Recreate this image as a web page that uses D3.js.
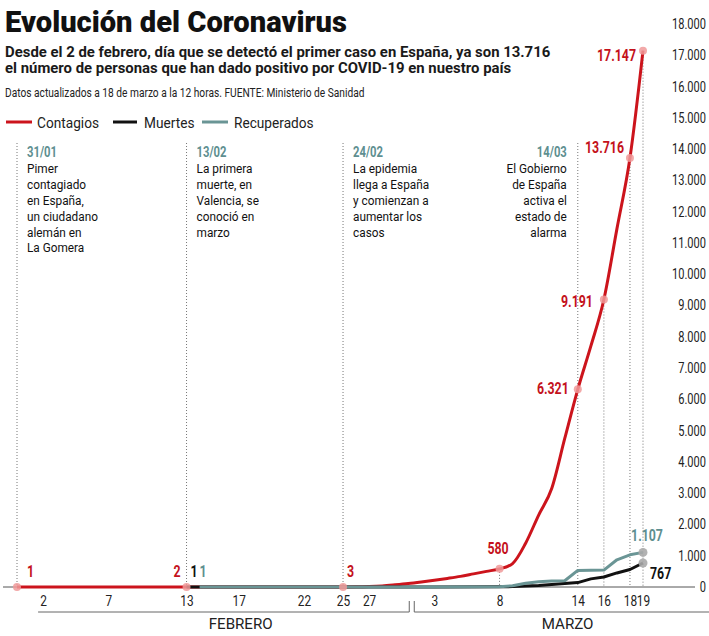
<!DOCTYPE html>
<html>
<head>
<meta charset="utf-8">
<script src="https://cdn.jsdelivr.net/npm/d3@7"></script>
<style>
  html, body { margin: 0; padding: 0; background: #fff; }
  svg { display: block; }
</style>
</head>
<body>
<svg id="chart" width="709" height="636"></svg>
<script>
// ---------------- DATA ----------------
const contagiosFechas = ["2020-01-31","2020-02-13","2020-02-25","2020-02-26","2020-02-27","2020-02-28","2020-02-29",
  "2020-03-01","2020-03-02","2020-03-03","2020-03-04","2020-03-05","2020-03-06","2020-03-07","2020-03-08","2020-03-09",
  "2020-03-10","2020-03-11","2020-03-12","2020-03-13","2020-03-14","2020-03-15","2020-03-16","2020-03-17","2020-03-18","2020-03-19"];
const contagiosValores = [1,2,3,5,15,35,70,
  110,160,215,275,340,420,500,580,750,
  1400,2300,3150,4750,6321,7700,9191,11450,13716,17147];

const muertesFechas = ["2020-02-13","2020-03-03","2020-03-08","2020-03-09","2020-03-10","2020-03-11","2020-03-12",
  "2020-03-13","2020-03-14","2020-03-15","2020-03-16","2020-03-17","2020-03-18","2020-03-19"];
const muertesValores = [1,1,8,12,30,50,80,110,140,260,320,450,560,767];

const recuperadosFechas = ["2020-02-14","2020-03-03","2020-03-08","2020-03-09","2020-03-10","2020-03-11","2020-03-12",
  "2020-03-13","2020-03-14","2020-03-15","2020-03-16","2020-03-17","2020-03-18","2020-03-19"];
const recuperadosValores = [1,2,10,40,120,170,190,200,530,535,540,870,1030,1107];

// labelled points
const destacadosContagios = ["2020-01-31","2020-02-13","2020-02-25","2020-03-08","2020-03-14","2020-03-16","2020-03-18","2020-03-19"];
const destacadosMuertes = ["2020-02-13","2020-03-19"];
const destacadosRecuperados = ["2020-02-14","2020-03-19"];

// events
const eventosFechas = ["2020-01-31","2020-02-13","2020-02-25","2020-03-14"];
const eventosEtiquetas = ["31/01","13/02","24/02","14/03"];
const eventosTextos = [
  ["Pimer","contagiado","en España,","un ciudadano","alemán en","La Gomera"],
  ["La primera","muerte, en","Valencia, se","conoció en","marzo"],
  ["La epidemia","llega a España","y comienzan a","aumentar los","casos"],
  ["El Gobierno","de España","activa el","estado de","alarma"]
];

const xTicks = ["2020-02-02","2020-02-07","2020-02-13","2020-02-17","2020-02-22","2020-02-25","2020-02-27",
  "2020-03-03","2020-03-08","2020-03-14","2020-03-16","2020-03-18","2020-03-19"];
const yTicks = [0,1000,2000,3000,4000,5000,6000,7000,8000,9000,10000,11000,12000,13000,14000,15000,16000,17000,18000];
const meses = ["FEBRERO","MARZO"];
const leyenda = ["Contagios","Muertes","Recuperados"];

const titulo = "Evolución del Coronavirus";
const subtitulo = ["Desde el 2 de febrero, día que se detectó el primer caso en España, ya son 13.716",
                   "el número de personas que han dado positivo por COVID-19 en nuestro país"];
const fuente = "Datos actualizados a 18 de marzo a la 12 horas. FUENTE: Ministerio de Sanidad";

// ---------------- SETUP ----------------
const FONT = "Roboto, 'Noto Sans', sans-serif";
const RED = "#cc141c", RED_LABEL = "#c4121c", BLACK = "#111", GREEN = "#6a9595", TEAL = "#5e8f90";
const parse = d3.timeParse("%Y-%m-%d");
const svg = d3.select("#chart").style("font-family", FONT);

const x = d3.scaleTime().domain([parse("2020-01-31"), parse("2020-03-19")]).range([17, 643]);
const y = d3.scaleLinear().domain([0, 18000]).range([587, 24]);

const loc = d3.formatLocale({decimal: ",", thousands: ".", grouping: [3], currency: ["", "€"]});
const fmt = loc.format(",d");

function measure(str, size, weight) {
  const t = svg.append("text").attr("font-size", size).attr("font-weight", weight || "normal").text(str);
  const w = t.node().getComputedTextLength(); t.remove(); return w;
}
function T(g, px, py, str, o) {
  return g.append("text")
    .attr("transform", `translate(${px},${py}) scale(${o.sx || 1},1)`)
    .attr("font-size", o.size).attr("font-weight", o.weight || "normal")
    .attr("text-anchor", o.anchor || "start").attr("fill", o.fill || "#222").text(str);
}

const mk = (fechas, valores) => fechas.map((f, i) => ({d: parse(f), v: valores[i]}));
const contagios = mk(contagiosFechas, contagiosValores);
const muertes = mk(muertesFechas, muertesValores);
const recuperados = mk(recuperadosFechas, recuperadosValores);
const find = (arr, f) => arr.find(p => +p.d === +parse(f));

// ---------------- HEADER ----------------
{
  const size = 30, w = "900";
  T(svg, 5, 31.5, titulo, {size, weight: w, fill: "#111", sx: 342 / measure(titulo, size, w)});
  const ss = 15, sw = "bold";
  const ssx = 546 / measure(subtitulo[0], ss, sw);
  T(svg, 5, 56.5, subtitulo[0], {size: ss, weight: sw, fill: "#1a1a1a", sx: ssx});
  T(svg, 5, 73, subtitulo[1], {size: ss, weight: sw, fill: "#1a1a1a", sx: ssx});
  const fs = 12.5;
  T(svg, 5, 97, fuente, {size: fs, fill: "#222", sx: 360 / measure(fuente, fs)});
}

// legend
{
  const legCol = [RED, BLACK, GREEN];
  const legLine = [[6, 32], [113, 137], [202, 228]];
  const legText = [37, 144, 234];
  const ls = 15.5, lsx = 62 / measure(leyenda[0], ls);
  leyenda.forEach((l, i) => {
    svg.append("line").attr("x1", legLine[i][0]).attr("x2", legLine[i][1]).attr("y1", 122).attr("y2", 122)
      .attr("stroke", legCol[i]).attr("stroke-width", 3);
    T(svg, legText[i], 127.5, l, {size: ls, fill: "#222", sx: lsx});
  });
}

// ---------------- DOTTED GUIDES ----------------
const guides = svg.append("g").attr("stroke", "#777").attr("stroke-width", 1).attr("stroke-dasharray", "1,2");
eventosFechas.forEach(f => {
  guides.append("line").attr("x1", x(parse(f))).attr("x2", x(parse(f))).attr("y1", 143).attr("y2", y(0));
});
["2020-03-08","2020-03-16","2020-03-18","2020-03-19"].forEach(f => {
  const p = find(contagios, f);
  guides.append("line").attr("x1", x(p.d)).attr("x2", x(p.d)).attr("y1", y(p.v)).attr("y2", y(0));
});

// ---------------- EVENTS TEXT ----------------
{
  const bs = 13.5, bsx = 71 / measure("un ciudadano", bs);
  const ds = 14, dsx = 30 / measure("31/01", ds, "bold");
  eventosFechas.forEach((f, i) => {
    const right = (i === 3);
    const ex = right ? x(parse(f)) - 11 : x(parse(f)) + 10;
    const anchor = right ? "end" : "start";
    T(svg, ex, 157, eventosEtiquetas[i], {size: ds, weight: "bold", fill: TEAL, anchor, sx: dsx});
    eventosTextos[i].forEach((line, j) => {
      T(svg, ex, 173.3 + j * 15.8, line, {size: bs, fill: "#111", anchor, sx: bsx});
    });
  });
}

// ---------------- AXES ----------------
svg.append("line").attr("x1", 3).attr("x2", 695).attr("y1", y(0)).attr("y2", y(0)).attr("stroke", "#555").attr("stroke-width", 1);

const xAxis = svg.append("g").attr("transform", `translate(0,${y(0)})`)
  .call(d3.axisBottom(x).tickValues(xTicks.map(parse)).tickFormat(d3.timeFormat("%-d")).tickSize(0).tickPadding(9));
xAxis.select(".domain").remove();
xAxis.selectAll("text").attr("font-family", FONT).attr("font-size", 14.5).attr("fill", "#222")
  .attr("transform", "scale(0.82,1)");

const yAxis = svg.append("g").attr("transform", `translate(706,0)`)
  .call(d3.axisLeft(y).tickValues(yTicks).tickFormat(fmt).tickSize(0).tickPadding(0));
yAxis.select(".domain").remove();
yAxis.selectAll("text").attr("font-family", FONT).attr("font-size", 14).attr("fill", "#222")
  .attr("transform", `scale(${(34 / measure("17.000", 14)).toFixed(3)},1)`);

// month brackets
{
  const brk = x(parse("2020-03-01")) + 3;
  const febStart = x(parse("2020-02-02")) - 5;
  svg.append("line").attr("x1", febStart).attr("x2", brk - 2).attr("y1", 612).attr("y2", 612).attr("stroke", "#666");
  svg.append("line").attr("x1", brk + 3).attr("x2", 709).attr("y1", 612).attr("y2", 612).attr("stroke", "#666");
  [brk - 2, brk + 3].forEach(bx => svg.append("line").attr("x1", bx).attr("x2", bx).attr("y1", 601).attr("y2", 612).attr("stroke", "#666"));
  const ms = 14.5, msx = 64 / measure(meses[0], ms);
  T(svg, (febStart + brk) / 2 + 16, 629, meses[0], {size: ms, anchor: "middle", sx: msx});
  T(svg, (brk + 3 + 709) / 2 + 6, 629, meses[1], {size: ms, anchor: "middle", sx: msx});
}

// ---------------- LINES ----------------
svg.append("path").datum(contagios)
  .attr("d", d3.line().x(p => x(p.d)).y(p => y(p.v)).curve(d3.curveMonotoneX))
  .attr("fill", "none").attr("stroke", RED).attr("stroke-width", 3);
svg.append("path").datum(muertes).attr("d", d3.line().x(p => x(p.d)).y(p => y(p.v))).attr("fill", "none")
  .attr("stroke", BLACK).attr("stroke-width", 3).attr("stroke-linejoin", "round");
svg.append("path").datum(recuperados).attr("d", d3.line().x(p => x(p.d)).y(p => y(p.v))).attr("fill", "none")
  .attr("stroke", GREEN).attr("stroke-width", 3).attr("stroke-linejoin", "round");

// ---------------- MARKERS ----------------
destacadosContagios.forEach(f => {
  const p = find(contagios, f);
  svg.append("circle").attr("cx", x(p.d)).attr("cy", y(p.v)).attr("r", 4).attr("fill", "#f09a9a").attr("opacity", 0.85);
});
[find(muertes, "2020-03-19"), find(recuperados, "2020-03-19")].forEach(p => {
  svg.append("circle").attr("cx", x(p.d)).attr("cy", y(p.v)).attr("r", 4.5).attr("fill", "#aaa").attr("opacity", 0.9);
});

// ---------------- VALUE LABELS ----------------
const LFS = 16.5, LSX = 39 / measure("17.147", LFS, "bold");
// placement per labelled point: [dx, dy, anchor]
const placeC = [[10, -10, "start"], [-6, -10, "end"], [4, -10, "start"], [-1.5, -15, "middle"],
                [-9, 5, "end"], [-11, 7, "end"], [-6, -5, "end"], [-7, 10, "end"]];
destacadosContagios.forEach((f, i) => {
  const p = find(contagios, f);
  T(svg, x(p.d) + placeC[i][0], y(p.v) + placeC[i][1], fmt(p.v),
    {size: LFS, weight: "bold", fill: RED_LABEL, anchor: placeC[i][2], sx: LSX});
});
const placeM = [[4, -10, "start"], [7, 16, "start"]];
destacadosMuertes.forEach((f, i) => {
  const p = find(muertes, f);
  T(svg, x(p.d) + placeM[i][0], y(p.v) + placeM[i][1], fmt(p.v),
    {size: LFS, weight: "bold", fill: BLACK, anchor: placeM[i][2], sx: LSX});
});
const placeR = [[0, -10, "start"], [4, -11, "middle"]];
destacadosRecuperados.forEach((f, i) => {
  const p = find(recuperados, f);
  T(svg, x(p.d) + placeR[i][0], y(p.v) + placeR[i][1], fmt(p.v),
    {size: LFS, weight: "bold", fill: TEAL, anchor: placeR[i][2], sx: LSX});
});
</script>
</body>
</html>
